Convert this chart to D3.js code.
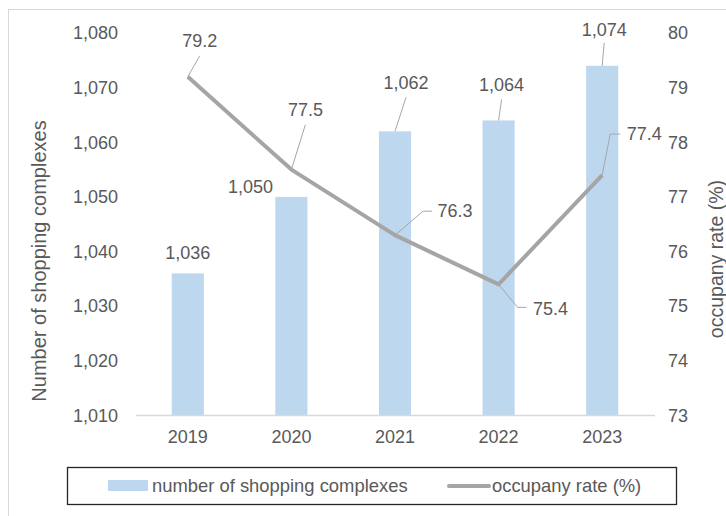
<!DOCTYPE html>
<html>
<head>
<meta charset="utf-8">
<script src="https://cdn.jsdelivr.net/npm/d3@7"></script>
<style>
  html, body { margin: 0; padding: 0; background: #fff; }
  svg { display: block; font-family: "Liberation Sans", Arial, sans-serif; }
</style>
</head>
<body>
<svg id="chart" width="726" height="516"></svg>
<script>
// Shopping complexes count (bars, left axis) and occupancy rate (line, right axis)
const years = ["2019", "2020", "2021", "2022", "2023"];
const complexes = [1036, 1050, 1062, 1064, 1074];
const occupancy = [79.2, 77.5, 76.3, 75.4, 77.4];
const leftTicks = [1010, 1020, 1030, 1040, 1050, 1060, 1070, 1080];
const rightTicks = [73, 74, 75, 76, 77, 78, 79, 80];

// Data-label placement: label centre offset from its mark, plus optional leader line points
const barLabelLayout = [
  { dx: 0, dy: -21, leader: null },
  { dx: -41, dy: -10, leader: null },
  { dx: 11, dy: -49, leader: [[11, -34]] },
  { dx: 3, dy: -36, leader: [[3, -21]] },
  { dx: 2, dy: -36, leader: [[2, -23]] }
];
const lineLabelLayout = [
  { dx: 12, dy: -36, leader: [[12, -21]] },
  { dx: 14, dy: -60, leader: [[14, -45]] },
  { dx: 60, dy: -24, leader: [[28, -24], [37, -24]] },
  { dx: 52, dy: 24, leader: [[19, 23], [28, 23]] },
  { dx: 42, dy: -41, leader: [[8, -41], [18, -41]] }
];

const TEXT = "#595959";
const BAR = "#BDD7EE";
const LINE = "#A5A5A5";
const GRID = "#D9D9D9";

const svg = d3.select("#chart");

// outer chart frame
svg.append("rect")
  .attr("x", 8.5).attr("y", 9.5).attr("width", 800).attr("height", 600)
  .attr("fill", "none").attr("stroke", GRID).attr("stroke-width", 1);

const plot = { left: 136, right: 654, top: 33, bottom: 415.5 };

const x = d3.scaleBand().domain(years).range([plot.left, plot.right]).padding(0);
const yL = d3.scaleLinear().domain([1010, 1080]).range([plot.bottom, plot.top]);
const yR = d3.scaleLinear().domain([73, 80]).range([plot.bottom, plot.top]);
const barW = x.bandwidth() * 0.31;
const cx = d => x(d) + x.bandwidth() / 2;

// bars
svg.append("g").selectAll("rect").data(years).join("rect")
  .attr("x", d => cx(d) - barW / 2)
  .attr("y", (d, i) => yL(complexes[i]))
  .attr("width", barW)
  .attr("height", (d, i) => yL(1010) - yL(complexes[i]))
  .attr("fill", BAR);

// category baseline
svg.append("line")
  .attr("x1", plot.left).attr("x2", plot.right + 1)
  .attr("y1", plot.bottom).attr("y2", plot.bottom)
  .attr("stroke", GRID).attr("stroke-width", 1.3);

// left axis
const gL = svg.append("g").attr("transform", `translate(${plot.left},0)`)
  .call(d3.axisLeft(yL).tickValues(leftTicks).tickFormat(d3.format(",")).tickSize(0).tickPadding(18));
// right axis
const gR = svg.append("g").attr("transform", `translate(${plot.right},0)`)
  .call(d3.axisRight(yR).tickValues(rightTicks).tickFormat(d3.format("d")).tickSize(0).tickPadding(14));
// bottom axis
const gB = svg.append("g").attr("transform", `translate(0,${plot.bottom})`)
  .call(d3.axisBottom(x).tickSize(0).tickPadding(15));

[gL, gR, gB].forEach(g => {
  g.select(".domain").remove();
  g.selectAll("text").attr("fill", TEXT).attr("font-size", 18)
    .attr("font-family", "'Liberation Sans', Arial, sans-serif");
});

// occupancy line
const linePts = years.map((d, i) => [cx(d), yR(occupancy[i])]);
svg.append("path")
  .attr("d", d3.line()(linePts))
  .attr("fill", "none").attr("stroke", LINE).attr("stroke-width", 4)
  .attr("stroke-linejoin", "round");

// data labels with leader lines
function drawLabels(anchors, texts, layout) {
  const g = svg.append("g");
  anchors.forEach((a, i) => {
    const L = layout[i];
    if (L.leader) {
      const pts = [[a[0], a[1]]].concat(L.leader.map(p => [a[0] + p[0], a[1] + p[1]]));
      g.append("path").attr("d", d3.line()(pts))
        .attr("fill", "none").attr("stroke", "#A6A6A6").attr("stroke-width", 1);
    }
    g.append("text")
      .attr("x", a[0] + L.dx).attr("y", a[1] + L.dy).attr("dy", "0.35em")
      .attr("text-anchor", "middle").attr("font-size", 18).attr("fill", TEXT)
      .text(texts[i]);
  });
}
drawLabels(years.map((d, i) => [cx(d), yL(complexes[i])]), complexes.map(d3.format(",")), barLabelLayout);
drawLabels(linePts, occupancy.map(d3.format(".1f")), lineLabelLayout);

// axis titles
svg.append("text")
  .attr("transform", "translate(39,261) rotate(-90)").attr("dy", "0.35em")
  .attr("text-anchor", "middle").attr("font-size", 20).attr("fill", TEXT)
  .text("Number of shopping complexes");
svg.append("text")
  .attr("transform", "translate(716,259) rotate(-90)").attr("dy", "0.35em")
  .attr("text-anchor", "middle").attr("font-size", 19.5).attr("fill", TEXT)
  .text("occupany rate (%)");

// legend
const lg = svg.append("g");
lg.append("rect").attr("x", 67.5).attr("y", 467.5).attr("width", 609).attr("height", 37)
  .attr("fill", "#fff").attr("stroke", "#262626").attr("stroke-width", 1.3);
lg.append("rect").attr("x", 108).attr("y", 480).attr("width", 40).attr("height", 11).attr("fill", BAR);
lg.append("text").attr("x", 152).attr("y", 486).attr("dy", "0.35em")
  .attr("font-size", 18.4).attr("fill", TEXT).text("number of shopping complexes");
lg.append("line").attr("x1", 449).attr("x2", 489).attr("y1", 486).attr("y2", 486)
  .attr("stroke", LINE).attr("stroke-width", 4).attr("stroke-linecap", "round");
lg.append("text").attr("x", 492).attr("y", 486).attr("dy", "0.35em")
  .attr("font-size", 18.4).attr("fill", TEXT).text("occupany rate (%)");
</script>
</body>
</html>
